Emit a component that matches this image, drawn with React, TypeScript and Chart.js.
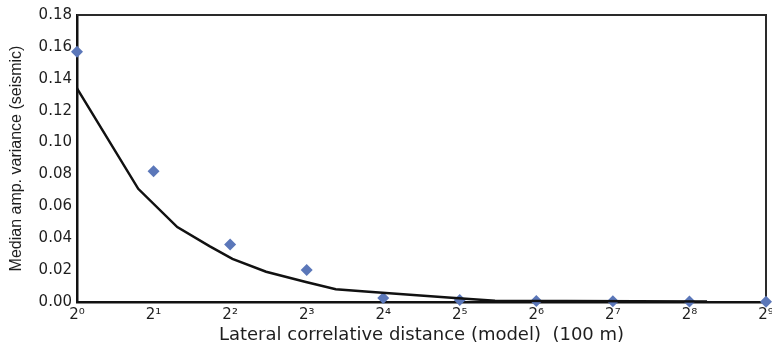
import React, { useEffect, useRef } from "react";
import { Chart, registerables } from "chart.js";

Chart.register(...registerables);

// x positions are log2 of the distance (tick k is labelled 2^k)
const tickExponents = [0, 1, 2, 3, 4, 5, 6, 7, 8, 9];
const superscripts = ["\u2070", "\u00B9", "\u00B2", "\u00B3", "\u2074", "\u2075", "\u2076", "\u2077", "\u2078", "\u2079"];

const scatterX = [0, 1, 2, 3, 4, 5, 6, 7, 8, 9];
const scatterY = [0.157, 0.082, 0.036, 0.02, 0.0025, 0.0012, 0.0006, 0.0004, 0.0003, 0.0002];

const lineX = [0, 0.8, 1.31, 1.73, 2.03, 2.47, 2.99, 3.38, 3.81, 4.89, 5.46, 8.23];
const lineY = [0.134, 0.071, 0.047, 0.035, 0.027, 0.019, 0.0125, 0.008, 0.0065, 0.0027, 0.0008, 0.0003];

const yMin = 0;
const yMax = 0.18;
const yStep = 0.02;

const xTitle = "Lateral correlative distance (model)  (100 m)";
const yTitle = "Median amp. variance (seismic)";

const TEXT = "#1e1e1e";

const frame = {
  id: "frameBox",
  beforeDatasetsDraw(chart: any) {
    const { ctx, chartArea } = chart;
    ctx.save();
    ctx.strokeStyle = "#2a2a2a";
    ctx.lineWidth = 2;
    ctx.beginPath();
    ctx.moveTo(chartArea.left, chartArea.top);
    ctx.lineTo(chartArea.right, chartArea.top);
    ctx.lineTo(chartArea.right, chartArea.bottom);
    ctx.stroke();
    ctx.restore();
  },
};

export default function App() {
  const ref = useRef<HTMLCanvasElement>(null);

  useEffect(() => {
    if (!ref.current) return;
    const chart = new Chart(ref.current, {
      type: "scatter",
      data: {
        datasets: [
          {
            type: "line",
            data: lineX.map((x, i) => ({ x, y: lineY[i] })),
            borderColor: "#111111",
            borderWidth: 2.5,
            pointRadius: 0,
            tension: 0,
            fill: false,
            clip: false as any,
          },
          {
            type: "scatter",
            data: scatterX.map((x, i) => ({ x, y: scatterY[i] })),
            backgroundColor: "#5b77b9",
            borderColor: "#5b77b9",
            borderWidth: 0,
            pointStyle: "rectRot",
            pointRadius: 6,
            clip: false as any,
          },
        ],
      },
      options: {
        responsive: false,
        animation: false,
        devicePixelRatio: 1,
        layout: { padding: { top: 15, right: 3, left: 0, bottom: 0 } },
        plugins: { legend: { display: false }, tooltip: { enabled: false } },
        scales: {
          x: {
            type: "linear",
            min: tickExponents[0],
            max: tickExponents[tickExponents.length - 1],
            afterBuildTicks: (s: any) => {
              s.ticks = tickExponents.map((v) => ({ value: v }));
            },
            afterFit: (s: any) => {
              s.height = 42;
              s.paddingLeft = 0;
              s.paddingRight = 0;
            },
            grid: { display: false, drawTicks: false },
            border: { display: true, color: "#111111", width: 2.5 },
            ticks: {
              padding: 4,
              autoSkip: false,
              maxRotation: 0,
              color: TEXT,
              font: { family: "'DejaVu Sans', sans-serif", size: 15 },
              callback: (v: any) => "2" + superscripts[Number(v)],
            },
            title: {
              display: true,
              text: xTitle,
              color: TEXT,
              font: { family: "'DejaVu Sans', sans-serif", size: 18, lineHeight: 1 },
              padding: { top: 0, bottom: 0 },
            },
          },
          y: {
            min: yMin,
            max: yMax,
            afterFit: (s: any) => {
              s.width = 77;
            },
            grid: { display: false, drawTicks: false },
            border: { display: true, color: "#111111", width: 2.5 },
            ticks: {
              stepSize: yStep,
              padding: 5,
              color: TEXT,
              font: { family: "'DejaVu Sans', sans-serif", size: 15 },
              callback: (v: any) => Number(v).toFixed(2),
            },
            title: {
              display: true,
              text: yTitle,
              color: TEXT,
              font: { family: "'Liberation Sans', Arial, sans-serif", size: 16, lineHeight: 1.2 },
              padding: { top: 7, bottom: 0 },
            },
          },
        },
      },
      plugins: [frame],
    });
    return () => chart.destroy();
  }, []);

  return (
    <div style={{ position: "absolute", left: 0, top: 0, width: 772, height: 344, background: "#ffffff" }}>
      <canvas ref={ref} width={772} height={344} style={{ display: "block" }} />
    </div>
  );
}
